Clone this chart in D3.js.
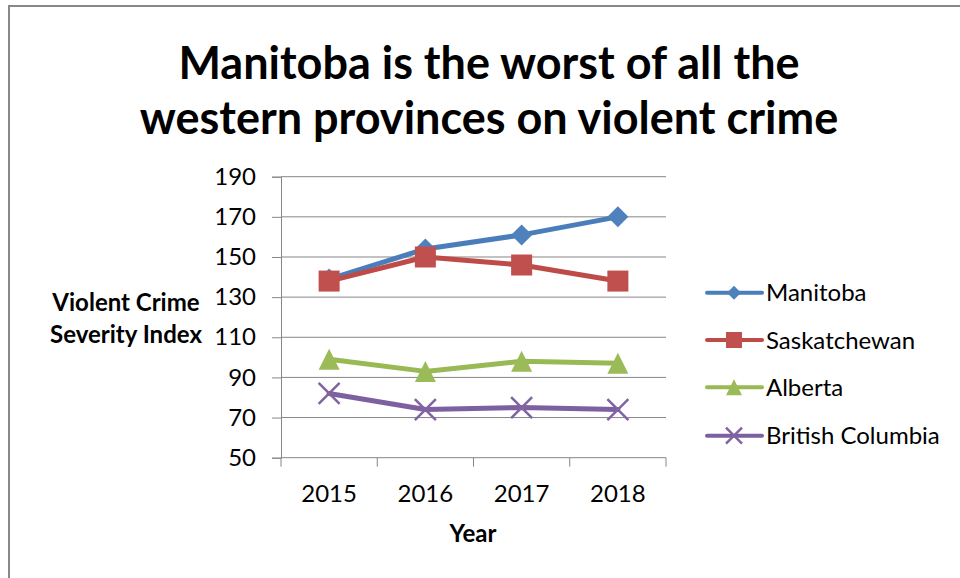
<!DOCTYPE html>
<html>
<head>
<meta charset="utf-8">
<script src="https://cdn.jsdelivr.net/npm/d3@7"></script>
<style>
  html, body { margin: 0; padding: 0; background: #fff; }
  svg { display: block; }
  text { font-family: Lato, "Open Sans", "DejaVu Sans", sans-serif; fill: #000; }
</style>
</head>
<body>
<svg id="chart" width="960" height="578"></svg>
<script>
// Violent Crime Severity Index, western provinces
const years = ["2015", "2016", "2017", "2018"];
const manitoba = [139, 154, 161, 170];
const saskatchewan = [138, 150, 146, 138];
const alberta = [99, 93, 98, 97];
const britishColumbia = [82, 74, 75, 74];
const yTicks = [50, 70, 90, 110, 130, 150, 170, 190];

const titleLines = ["Manitoba is the worst of all the", "western provinces on violent crime"];
const yLabelLines = ["Violent Crime", "Severity Index"];
const xLabel = "Year";

const series = [
  { name: "Manitoba", values: manitoba, line: "#4A7EBB", fill: "#4F81BD", shape: "diamond" },
  { name: "Saskatchewan", values: saskatchewan, line: "#BE4B48", fill: "#C0504D", shape: "square" },
  { name: "Alberta", values: alberta, line: "#98B954", fill: "#9BBB59", shape: "triangle" },
  { name: "British Columbia", values: britishColumbia, line: "#7D60A0", fill: "#8064A2", shape: "x" }
];

const svg = d3.select("#chart");
const gridColor = "#868686";

// outer chart frame
svg.append("rect")
  .attr("x", 9).attr("y", 6)
  .attr("width", 1000).attr("height", 700)
  .attr("fill", "none").attr("stroke", "#888").attr("stroke-width", 2);

// title
svg.append("g").selectAll("text").data(titleLines).join("text")
  .attr("x", 489).attr("y", (d, i) => 79 + i * 55)
  .attr("text-anchor", "middle")
  .attr("font-size", 45).attr("font-weight", 700)
  .text(d => d);

const plot = { left: 281, right: 666, top: 176.7, bottom: 457.7 };

const x = d3.scalePoint().domain(years).range([plot.left, plot.right]).padding(0.5);
const xBand = d3.scaleBand().domain(years).range([plot.left, plot.right]);
const y = d3.scaleLinear().domain([50, 190]).range([plot.bottom, plot.top]);

// horizontal gridlines
svg.append("g").selectAll("line").data(yTicks.filter(t => t !== 50)).join("line")
  .attr("x1", plot.left).attr("x2", plot.right)
  .attr("y1", d => y(d)).attr("y2", d => y(d))
  .attr("stroke", gridColor).attr("stroke-width", 1);

// y axis
const yAxis = svg.append("g")
  .attr("transform", `translate(${plot.left},0)`)
  .call(d3.axisLeft(y).tickValues(yTicks).tickSize(9).tickPadding(16).tickFormat(d3.format("d")));
yAxis.select(".domain").attr("stroke", gridColor);
yAxis.selectAll(".tick line").attr("stroke", gridColor);
yAxis.selectAll(".tick text").attr("font-size", 24).attr("font-family", "Lato, sans-serif").attr("fill", "#000");

// x axis: ticks at category boundaries, labels at centres
const bounds = years.map(d => xBand(d)).concat([plot.right]);
const xAxis = svg.append("g");
xAxis.append("line")
  .attr("x1", plot.left).attr("x2", plot.right)
  .attr("y1", plot.bottom).attr("y2", plot.bottom)
  .attr("stroke", gridColor);
xAxis.selectAll("line.tick").data(bounds).join("line")
  .attr("class", "tick")
  .attr("x1", d => d).attr("x2", d => d)
  .attr("y1", plot.bottom).attr("y2", plot.bottom + 9)
  .attr("stroke", gridColor);
xAxis.selectAll("text").data(years).join("text")
  .attr("x", d => x(d)).attr("y", 502)
  .attr("text-anchor", "middle").attr("font-size", 24)
  .text(d => d);

// axis titles
svg.append("text").attr("x", 473).attr("y", 542)
  .attr("text-anchor", "middle").attr("font-size", 24).attr("font-weight", 700)
  .text(xLabel);
svg.append("g").selectAll("text").data(yLabelLines).join("text")
  .attr("x", 126).attr("y", (d, i) => 311 + i * 32)
  .attr("text-anchor", "middle").attr("font-size", 24).attr("font-weight", 700)
  .text(d => d);

// marker drawing
function drawMarker(g, shape, size, s) {
  const h = size / 2;
  if (shape === "diamond") {
    g.append("path").attr("d", `M0,${-h}L${h},0L0,${h}L${-h},0Z`).attr("fill", s.fill);
  } else if (shape === "square") {
    g.append("rect").attr("x", -h).attr("y", -h).attr("width", size).attr("height", size).attr("fill", s.fill);
  } else if (shape === "triangle") {
    g.append("path").attr("d", `M0,${-h}L${h},${h}L${-h},${h}Z`).attr("fill", s.fill);
  } else {
    g.append("path").attr("d", `M${-h},${-h}L${h},${h}M${h},${-h}L${-h},${h}`)
      .attr("stroke", s.fill).attr("stroke-width", 2.5).attr("fill", "none");
  }
}

const line = d3.line().x((d, i) => x(years[i])).y(d => y(d));

const seriesG = svg.append("g").selectAll("g").data(series).join("g");
seriesG.each(function (s) {
  const g = d3.select(this);
  g.append("path").attr("d", line(s.values))
    .attr("fill", "none").attr("stroke", s.line).attr("stroke-width", 5)
    .attr("stroke-linejoin", "round").attr("stroke-linecap", "round");
  s.values.forEach((v, i) => {
    const m = g.append("g").attr("transform", `translate(${x(years[i])},${y(v)})`);
    drawMarker(m, s.shape, 21, s);
  });
});

// legend
const legend = svg.append("g").selectAll("g").data(series).join("g")
  .attr("transform", (d, i) => `translate(0,${[292.7, 340, 387.3, 435.7][i]})`);
legend.each(function (s) {
  const g = d3.select(this);
  g.append("line").attr("x1", 707).attr("x2", 762).attr("y1", 0).attr("y2", 0)
    .attr("stroke", s.line).attr("stroke-width", 4).attr("stroke-linecap", "round");
  const m = g.append("g").attr("transform", "translate(734,0)");
  drawMarker(m, s.shape, s.shape === "diamond" ? 14 : 16, s);
  g.append("text").attr("x", 766).attr("y", 8.5).attr("font-size", 24).text(s.name);
});
</script>
</body>
</html>
